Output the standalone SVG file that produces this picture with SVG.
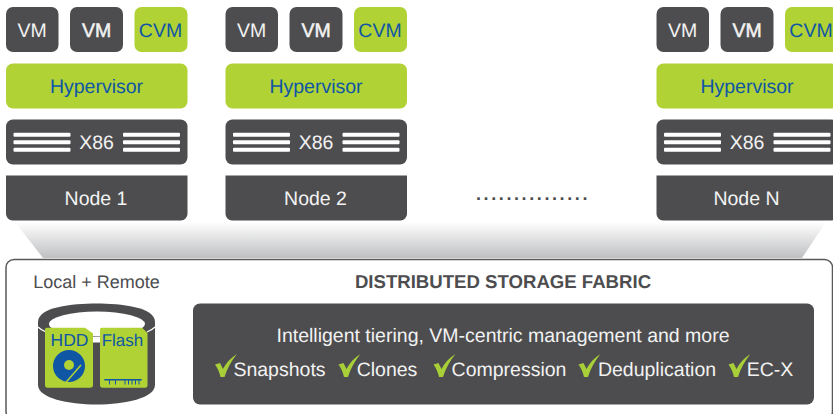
<svg xmlns="http://www.w3.org/2000/svg" width="833" height="414" viewBox="0 0 833 414">
<style>
text{font-family:"Liberation Sans",Arial,sans-serif;font-size:19.500px;text-anchor:middle;text-rendering:geometricPrecision}
.d{fill:#4d4d4f}.g{fill:#b0d235}
.w{fill:#f2f2f2}.b{fill:#0f56a5}.k{fill:#4d4d4f}
.bar{fill:#fff}
.chk{fill:#a9cf38}
</style>
<defs>
<linearGradient id="fade" x1="0" y1="0" x2="0" y2="1"><stop offset="0" stop-color="#fff"/><stop offset="1" stop-color="#bfc0c2"/></linearGradient>
<path id="nodeBase" d="M6 175.500H187.500V214a6.500 6.500 0 0 1-6.500 6.500H12.500A6.500 6.500 0 0 1 6 214Z"/>
<g id="bars"><rect x="0" y="0" width="57" height="4" rx="1" class="bar"/><rect x="0" y="7.500" width="57" height="4" rx="1" class="bar"/><rect x="0" y="15" width="57" height="4" rx="1" class="bar"/></g>
<g id="stack">
<rect class="d" x="6" y="7" width="52.500" height="45" rx="7"/>
<text class="w" x="32" y="37">VM</text>
<rect class="d" x="70" y="7" width="53" height="45" rx="7"/>
<text class="w" x="96.500" y="37" stroke="#f2f2f2" stroke-width=".5">VM</text>
<rect class="g" x="134.500" y="7" width="53" height="45" rx="7"/>
<text class="b" x="160.500" y="37">CVM</text>
<rect class="g" x="6" y="63.500" width="181.500" height="45" rx="7"/>
<text class="b" x="96.500" y="93">Hypervisor</text>
<rect class="d" x="6" y="119.500" width="181.500" height="45" rx="7"/>
<use href="#bars" x="13.500" y="132.700"/>
<use href="#bars" x="123" y="132.700"/>
<text class="w" x="96.500" y="149">X86</text>
<use href="#nodeBase" class="d"/>
</g>
<path id="chk" d="M0 8.500 5 7 8 13C11 7 15.500 2 22 -2 16 5 12 13 9.500 21H5.500C4.500 16 2.500 12 0 8.500Z"/>
</defs>
<g id="connectors">
<path d="M15 222H826L802 258H43Z" fill="url(#fade)"/>
</g>
<g id="node-1"><use href="#stack"/><text class="w" x="96" y="205">Node 1</text></g>
<g id="node-2"><use href="#stack" x="219.500"/><text class="w" x="315.500" y="205">Node 2</text></g>
<g id="ellipsis"><text x="533" y="200" style="font-size:18px;letter-spacing:2.600px;font-weight:bold;fill:#4d4d4f">...............</text></g>
<g id="node-n"><use href="#stack" x="650.500"/><text class="w" x="746.500" y="205">Node N</text></g>
<g id="fabric">
<rect x="6" y="259.500" width="826.500" height="160" rx="8" fill="#fff" stroke="#58595b" stroke-width="1.500"/>
<text x="96.500" y="288" class="k" style="font-size:18px">Local + Remote</text>
<text x="503" y="288" class="k" style="font-size:18.600px;font-weight:bold">DISTRIBUTED STORAGE FABRIC</text>
<rect class="d" x="193" y="303.500" width="621" height="101" rx="7"/>
<text class="w" x="503" y="342">Intelligent tiering, VM-centric management and more</text>
<use href="#chk" class="chk" x="215" y="356"/><text class="w" x="279.500" y="376">Snapshots</text>
<use href="#chk" class="chk" x="338.500" y="356"/><text class="w" x="387" y="376">Clones</text>
<use href="#chk" class="chk" x="433.500" y="356"/><text class="w" x="509" y="376">Compression</text>
<use href="#chk" class="chk" x="578.500" y="356"/><text class="w" x="657" y="376">Deduplication</text>
<use href="#chk" class="chk" x="728.500" y="356"/><text class="w" x="770" y="376">EC-X</text>
</g>
<g id="storage">
<path class="d" d="M38 322C38 307 72 303.500 96.500 303.500S155 307 155 322V385C155 398 125 404.500 96.500 404.500S38 398 38 385Z"/>
<ellipse cx="97" cy="324" rx="48" ry="12.500" fill="#fff"/>
<path d="M38 327Q41 330 46 332M155 327Q152 330 147 332" stroke="#fff" stroke-width="1.200" fill="none"/>
<rect x="90" y="337" width="13" height="5.500" fill="#fff"/>
<path class="g" d="M47 327.700H85L93 333.500V385Q93 387.700 90 387.700H47.500Q45 387.700 45 385V329.500Q45 327.700 47 327.700Z"/>
<path class="g" d="M102 327.700H142L147.500 333V385Q147.500 387.700 145 387.700H102.500Q100 387.700 100 385V329.500Q100 327.700 102 327.700Z"/>
<text x="69.500" y="346" class="b" style="font-size:17.500px">HDD</text>
<text x="122.500" y="346" class="b" style="font-size:17px">Flash</text>
<circle cx="69" cy="366" r="16" fill="#0f56a5"/>
<circle cx="69" cy="365" r="5" fill="#b0d235"/>
<path d="M64.500 384 81 365" stroke="#b0d235" stroke-width="1.500" fill="none"/>
<path d="M104.300 379H141.700V380.500H139.500V384.500H138.500V380.500H136V384.500H135V380.500H132.500V384.500H131.500V380.500H129V384.500H128V380.500H125.500V384.500H124.500V380.500H116V384.500H115V380.500H110V384.500H109V380.500H104.300Z" fill="#0f56a5"/>
</g>
</svg>
